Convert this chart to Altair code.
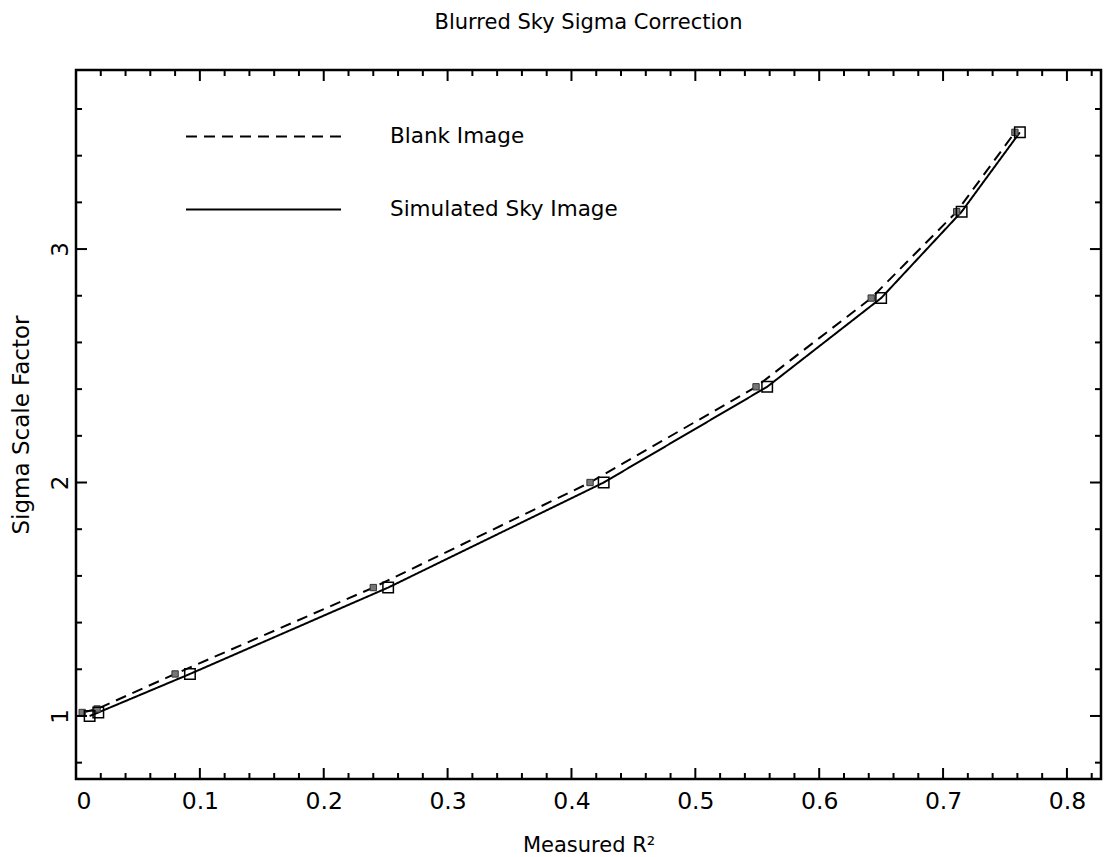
import altair as alt
import pandas as pd

# ---- data ----
blank_x = [0.005, 0.017, 0.080, 0.240, 0.415, 0.549, 0.642, 0.711, 0.758]
blank_y = [1.015, 1.030, 1.180, 1.550, 2.000, 2.410, 2.790, 3.160, 3.500]
sim_x = [0.011, 0.018, 0.092, 0.252, 0.426, 0.558, 0.650, 0.715, 0.762]
sim_y = [1.000, 1.015, 1.180, 1.550, 2.000, 2.410, 2.790, 3.160, 3.500]
series_names = ["Blank Image", "Simulated Sky Image"]

x_major = [0, 0.1, 0.2, 0.3, 0.4, 0.5, 0.6, 0.7, 0.8]
x_minor = [0.02, 0.04, 0.06, 0.08, 0.12, 0.14, 0.16, 0.18, 0.22, 0.24, 0.26, 0.28,
           0.32, 0.34, 0.36, 0.38, 0.42, 0.44, 0.46, 0.48, 0.52, 0.54, 0.56, 0.58,
           0.62, 0.64, 0.66, 0.68, 0.72, 0.74, 0.76, 0.78, 0.82]
y_major = [1, 2, 3]
y_minor = [0.8, 1.2, 1.4, 1.6, 1.8, 2.2, 2.4, 2.6, 2.8, 3.2, 3.4, 3.6]

W, H = 1025, 709
FONT = "DejaVu Sans"

df = pd.concat([
    pd.DataFrame({"x": blank_x, "y": blank_y, "series": series_names[0], "order": range(len(blank_x))}),
    pd.DataFrame({"x": sim_x, "y": sim_y, "series": series_names[1], "order": range(len(sim_x))}),
])

xs = alt.Scale(domain=[0, 0.8275], nice=False, zero=False)
ys = alt.Scale(domain=[0.73, 3.767], nice=False, zero=False)

x_enc = alt.X("x:Q", scale=xs,
              axis=alt.Axis(values=x_major, format="~g", ticks=False, domain=False, grid=False,
                            labelFontSize=23.5, labelFont=FONT, labelColor="black", labelPadding=10,
                            title="Measured R²", titleFontSize=21, titleFont=FONT, titleFontWeight="normal",
                            titleColor="black", titlePadding=22))
y_enc = alt.Y("y:Q", scale=ys,
              axis=alt.Axis(values=y_major, format="~g", ticks=False, domain=False, grid=False,
                            labelFontSize=23, labelFont=FONT, labelColor="black", labelPadding=4,
                            labelAngle=270, labelAlign="center", labelBaseline="bottom",
                            title="Sigma Scale Factor", titleFontSize=23, titleFont=FONT,
                            titleFontWeight="normal", titleColor="black", titlePadding=16))

# legend symbol: a long horizontal stroke drawn as a custom path (length = 4*sqrt(size))
lines = alt.Chart(df).mark_line(color="black", strokeWidth=2).encode(
    x=x_enc, y=y_enc, order="order:Q",
    strokeDash=alt.StrokeDash("series:N",
                              scale=alt.Scale(domain=series_names, range=[[11, 7], [1, 0]]),
                              legend=alt.Legend(title=None, orient="none", legendX=167, legendY=46,
                                                symbolType="M-4,0H4", symbolSize=1502,
                                                symbolStrokeWidth=2, symbolStrokeColor="black",
                                                symbolFillColor="transparent",
                                                labelFontSize=21.5, labelFont=FONT, labelColor="black",
                                                labelLimit=500, labelOffset=106, rowPadding=42,
                                                padding=0)),
)

pts_blank = alt.Chart(df[df.series == series_names[0]]).mark_square(
    size=40, color="#777777", stroke="#333333", strokeWidth=1, opacity=1).encode(x="x:Q", y="y:Q")
pts_sim = alt.Chart(df[df.series == series_names[1]]).mark_square(
    size=110, filled=False, stroke="black", strokeWidth=1.5, opacity=1).encode(x="x:Q", y="y:Q")

def tdf(vals):
    return pd.DataFrame({"v": vals})

tick_color = "black"
def xticks(vals, L):
    b = alt.Chart(tdf(vals)).mark_rule(color=tick_color, strokeWidth=2).encode(
        x=alt.X("v:Q", scale=xs), y=alt.value(H), y2=alt.value(H - L))
    t = alt.Chart(tdf(vals)).mark_rule(color=tick_color, strokeWidth=2).encode(
        x=alt.X("v:Q", scale=xs), y=alt.value(0), y2=alt.value(L))
    return b + t

def yticks(vals, L):
    l = alt.Chart(tdf(vals)).mark_rule(color=tick_color, strokeWidth=2).encode(
        y=alt.Y("v:Q", scale=ys), x=alt.value(0), x2=alt.value(L))
    r = alt.Chart(tdf(vals)).mark_rule(color=tick_color, strokeWidth=2).encode(
        y=alt.Y("v:Q", scale=ys), x=alt.value(W), x2=alt.value(W - L))
    return l + r

chart = alt.layer(
    lines, pts_blank, pts_sim,
    xticks(x_major, 11), xticks(x_minor, 6),
    yticks(y_major, 11), yticks(y_minor, 6),
).properties(
    width=W, height=H,
    title=alt.TitleParams("Blurred Sky Sigma Correction", fontSize=21, font=FONT,
                          fontWeight="normal", color="black", offset=36, anchor="middle"),
    autosize=alt.AutoSizeParams(type="none"),
    padding={"left": 76, "top": 70, "right": 9, "bottom": 78},
).configure(
    background="white",
    view=alt.ViewConfig(stroke="black", strokeWidth=2.5),
)

chart.save("out.html", embed_options={"renderer": "svg", "actions": False})
